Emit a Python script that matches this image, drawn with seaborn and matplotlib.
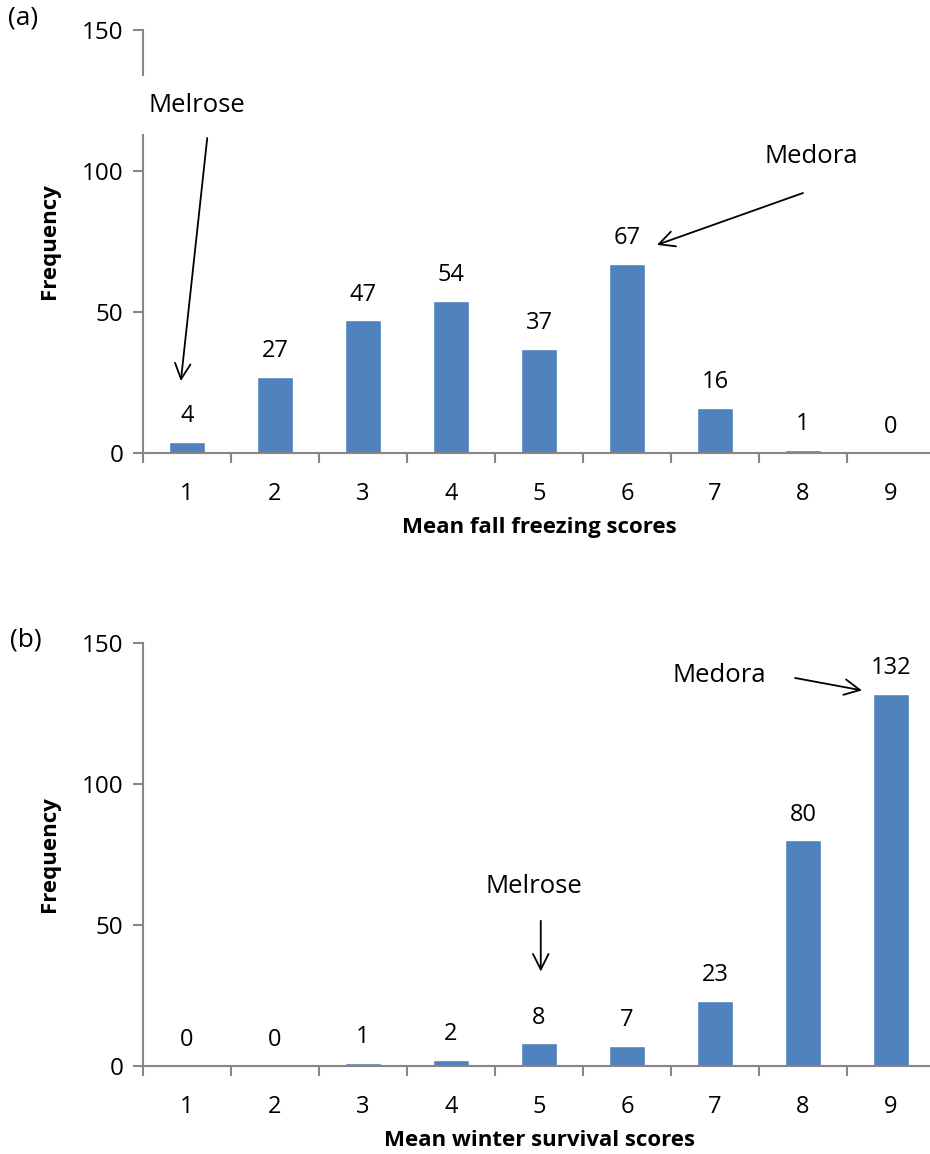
import matplotlib
matplotlib.use("Agg")
import matplotlib.pyplot as plt
import seaborn as sns
import pandas as pd

# Score classes and line counts for each trait
scores = ["1", "2", "3", "4", "5", "6", "7", "8", "9"]
fall_freezing = [4, 27, 47, 54, 37, 67, 16, 1, 0]
winter_survival = [0, 0, 1, 2, 8, 7, 23, 80, 132]

y_ticks = [0, 50, 100, 150]
bar_color = "#4F81BD"
axis_color = "#868686"

sns.set_theme(style="white")
plt.rcParams["font.family"] = ["Open Sans", "DejaVu Sans"]
plt.rcParams["text.color"] = "black"
plt.rcParams["axes.labelcolor"] = "black"

fig = plt.figure(figsize=(9.3, 11.54), dpi=100)

W, H = 930, 1154


def make_axes(zero_px, top_px):
    left = 143 / W
    width = (935 - 143) / W
    bottom = 1 - zero_px / H
    height = (zero_px - top_px) / H
    return fig.add_axes([left, bottom, width, height])


def style_axes(ax, xlabel):
    ax.set_xlim(-0.5, 8.5)
    ax.set_ylim(0, 150)
    ax.set_yticks(y_ticks)
    for side in ("top", "right"):
        ax.spines[side].set_visible(False)
    for side in ("left", "bottom"):
        ax.spines[side].set_color(axis_color)
        ax.spines[side].set_linewidth(1.5)
        ax.spines[side].set_zorder(1)
    ax.set_xticks(range(len(scores)))
    ax.set_xticklabels(scores)
    ax.set_xticks([i - 0.5 for i in range(len(scores) + 1)], minor=True)
    ax.tick_params(axis="x", which="major", length=0, pad=21, labelsize=17,
                   labelcolor="black")
    ax.tick_params(axis="x", which="minor", length=7, width=1.5,
                   color=axis_color, direction="out", bottom=True)
    ax.tick_params(axis="y", length=7, width=1.5, color=axis_color,
                   direction="out", left=True, pad=7, labelsize=17.5,
                   labelcolor="black")
    ax.set_xlabel(xlabel, fontsize=16, fontweight="bold", labelpad=8)
    ax.set_ylabel("Frequency", fontsize=16, fontweight="bold")
    ax.yaxis.set_label_coords(-0.105, 0.5)
    ax.grid(False)


def draw_panel(ax, values, xlabel):
    df = pd.DataFrame({"score": scores, "count": values})
    sns.barplot(data=df, x="score", y="count", order=scores, color=bar_color,
                width=0.4, saturation=1, ax=ax)
    ax.bar_label(ax.containers[0], labels=[str(v) for v in values],
                 padding=10, fontsize=17, color="black")
    style_axes(ax, xlabel)


def note(ax, text, text_xy, start, end):
    ax.annotate(text, xy=text_xy, ha="center", va="center", fontsize=18.5,
                zorder=5, annotation_clip=False, color="black",
                bbox=dict(boxstyle="square,pad=0.65", fc="white", ec="none"))
    ax.annotate("", xy=end, xytext=start, zorder=6, annotation_clip=False,
                arrowprops=dict(arrowstyle="->", color="black", lw=1.3,
                                mutation_scale=28, shrinkA=0, shrinkB=0))


ax_a = make_axes(453, 30)
draw_panel(ax_a, fall_freezing, "Mean fall freezing scores")
note(ax_a, "Melrose", (0.11, 123.4), (0.23, 111.7), (-0.07, 25.5))
note(ax_a, "Medora", (7.10, 105.0), (7.0, 92.2), (5.34, 73.8))

ax_b = make_axes(1066, 643)
draw_panel(ax_b, winter_survival, "Mean winter survival scores")
note(ax_b, "Medora", (6.05, 138.3), (6.91, 137.6), (7.67, 133.2))
note(ax_b, "Melrose", (3.94, 63.8), (4.02, 51.5), (4.02, 33.5))

fig.text(8 / W, 1 - 18 / H, "(a)", fontsize=19, va="center", ha="left")
fig.text(10 / W, 1 - 640 / H, "(b)", fontsize=19, va="center", ha="left")

fig.savefig("out.png", dpi=100)
